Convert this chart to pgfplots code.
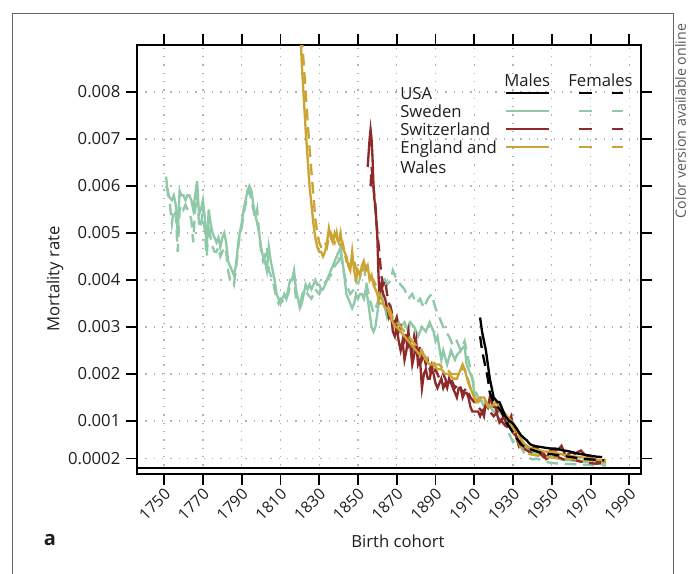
\documentclass[border=0pt]{standalone}
\usepackage{fontspec}
\setmainfont{Open Sans}
\usepackage{pgfplots}
\pgfplotsset{compat=1.18}
\definecolor{swe}{RGB}{143,201,168}
\definecolor{che}{RGB}{142,42,42}
\definecolor{eng}{RGB}{204,164,52}
\definecolor{txt}{RGB}{30,30,30}

% Sweden, males / females
\pgfplotstableread{
year rate
1751 0.0062
1752 0.0058
1753 0.00575
1754 0.0057
1755 0.0058
1756 0.0056
1757 0.0050
1758 0.0059
1759 0.0058
1760 0.0058
1761 0.0057
1762 0.0058
1763 0.0058
1764 0.0057
1765 0.0055
1766 0.0058
1767 0.0061
1768 0.0054
1769 0.0055
1770 0.0057
1771 0.0053
1772 0.0047
1773 0.0055
1774 0.0052
1775 0.0050
1776 0.0049
1777 0.0048
1778 0.0049
1779 0.0047
1780 0.0049
1781 0.0050
1782 0.0048
1783 0.0044
1784 0.0043
1785 0.0042
1786 0.0041
1787 0.0043
1788 0.0047
1789 0.0050
1790 0.0052
1791 0.0055
1792 0.0057
1793 0.0059
1794 0.0060
1795 0.0059
1796 0.0056
1797 0.0054
1798 0.0052
1799 0.0050
1800 0.0047
1801 0.0045
1802 0.0044
1803 0.0042
1804 0.0047
1805 0.0044
1806 0.0042
1807 0.0040
1808 0.0037
1809 0.0036
1810 0.0035
1811 0.0036
1812 0.0037
1813 0.0036
1814 0.0038
1815 0.0040
1816 0.0040
1817 0.0042
1818 0.0038
1819 0.0036
1820 0.0034
1821 0.0035
1822 0.0037
1823 0.0039
1824 0.0038
1825 0.0039
1826 0.0038
1827 0.0039
1828 0.0040
1829 0.0039
1830 0.0039
1831 0.0038
1832 0.0038
1833 0.0039
1834 0.0040
1835 0.0041
1836 0.0042
1837 0.0043
1838 0.0044
1839 0.0045
1840 0.0046
1841 0.0047
1842 0.0044
1843 0.0041
1844 0.0037
1845 0.0036
1846 0.0035
1847 0.0034
1848 0.0035
1849 0.0037
1850 0.0036
1851 0.0037
1852 0.0037
1853 0.0036
1854 0.0038
1855 0.0036
1856 0.0033
1857 0.0030
1858 0.0029
1859 0.0030
1860 0.0033
1861 0.0036
1862 0.0037
1863 0.0035
1864 0.0034
1865 0.0032
1866 0.0033
1867 0.0034
1868 0.0031
1869 0.0030
1870 0.0032
1872 0.0030
1874 0.0031
1876 0.0029
1877 0.0031
1879 0.0030
1881 0.0028
1883 0.0030
1885 0.0029
1887 0.0031
1889 0.0029
1890 0.0027
1891 0.0028
1893 0.0023
1894 0.0025
1896 0.0022
1898 0.0025
1900 0.0023
1901 0.0024
1903 0.0025
1905 0.0026
1906 0.0022
1907 0.0021
1909 0.0019
1910 0.0016
1912 0.0015
1913 0.0015
1915 0.0013
1918 0.0014
1920 0.0013
1923 0.0012
1925 0.0011
1927 0.0010
1929 0.00087
1931 0.00072
1933 0.00058
1935 0.00050
1937 0.00044
1939 0.00037
1941 0.00033
1944 0.00030
1947 0.00026
1950 0.00023
1953 0.00020
1956 0.00017
1960 0.00016
1964 0.00016
1968 0.00012
1972 0.00010
1976 0.00010
1978 0.00009
}\swem
\pgfplotstableread{
year rate
1751 0.0060
1752 0.0059
1753 0.0056
1754 0.0052
1755 0.0055
1756 0.0054
1757 0.0046
1758 0.0055
1759 0.0056
1760 0.0055
1761 0.0056
1762 0.0055
1763 0.0054
1764 0.0053
1765 0.0048
1766 0.0055
1767 0.0058
1768 0.0052
1769 0.0051
1770 0.0056
1771 0.0050
1772 0.0045
1773 0.0052
1774 0.0049
1775 0.0047
1776 0.0046
1777 0.0046
1778 0.0047
1779 0.0045
1780 0.0046
1781 0.0047
1782 0.0046
1783 0.0042
1784 0.0040
1785 0.0040
1786 0.0039
1787 0.0042
1788 0.0046
1789 0.0050
1790 0.0051
1791 0.0054
1792 0.0056
1793 0.0058
1794 0.0059
1795 0.0057
1796 0.0055
1797 0.0053
1798 0.0055
1799 0.0050
1800 0.0046
1801 0.0044
1802 0.0045
1803 0.0047
1804 0.0042
1805 0.0041
1806 0.0040
1807 0.0038
1808 0.0036
1809 0.0035
1810 0.0036
1812 0.0035
1814 0.0037
1815 0.0039
1817 0.0041
1818 0.0036
1820 0.0035
1822 0.0038
1824 0.0037
1826 0.0036
1828 0.0038
1830 0.0037
1832 0.0039
1834 0.0040
1836 0.0041
1838 0.0043
1840 0.0044
1841 0.0046
1842 0.0043
1844 0.0039
1846 0.0037
1848 0.0038
1850 0.0039
1852 0.0042
1853 0.0043
1854 0.0040
1856 0.0036
1858 0.0033
1860 0.0035
1862 0.0039
1863 0.0041
1865 0.0039
1867 0.0040
1868 0.0042
1870 0.0040
1872 0.0039
1874 0.0038
1876 0.0036
1878 0.0037
1880 0.0035
1882 0.0036
1884 0.0034
1886 0.0036
1888 0.0037
1890 0.0034
1891 0.0033
1893 0.0031
1895 0.0029
1897 0.0028
1899 0.0026
1901 0.0027
1903 0.0025
1905 0.0027
1906 0.0025
1908 0.0021
1910 0.0017
1912 0.0015
1914 0.0014
1916 0.0013
1918 0.0013
1920 0.0012
1922 0.0011
1924 0.0010
1926 0.0009
1928 0.00072
1930 0.00055
1932 0.00060
1934 0.00045
1936 0.00030
1938 0.00022
1940 0.00018
1942 0.00020
1945 0.00016
1948 0.00012
1951 0.00010
1955 0.00009
1960 0.00008
1965 0.00007
1970 0.00006
1975 0.00006
1978 0.00005
}\swef

% Switzerland, males / females
\pgfplotstableread{
year rate
1855 0.0064
1856 0.0070
1856.5 0.0072
1857 0.0070
1857.5 0.0066
1858 0.0060
1858.5 0.0057
1859 0.0056
1860 0.0049
1860.5 0.0042
1861 0.0037
1862 0.0039
1863 0.0037
1864 0.0036
1865 0.0034
1866 0.0032
1867 0.0033
1868 0.0029
1869 0.0028
1870 0.0030
1871 0.0027
1872 0.0025
1873 0.0027
1874 0.0023
1875 0.0025
1876 0.0029
1877 0.0026
1878 0.0022
1879 0.0024
1880 0.0027
1881 0.0022
1882 0.0023
1883 0.0017
1884 0.0020
1885 0.0021
1886 0.0019
1887 0.0019
1888 0.0021
1889 0.0020
1890 0.0018
1891 0.0017
1892 0.0018
1893 0.0019
1894 0.0017
1895 0.0018
1896 0.0017
1897 0.0019
1898 0.0018
1899 0.0017
1900 0.0016
1901 0.0015
1902 0.0017
1903 0.0017
1904 0.0015
1905 0.0016
1906 0.0016
1907 0.0015
1908 0.0013
1909 0.0012
1910 0.0012
1911 0.0012
1912 0.0012
1913 0.0011
1914 0.0012
1915 0.0011
1916 0.0014
1917 0.0013
1918 0.0015
1919 0.0014
1920 0.0013
1921 0.0013
1922 0.0011
1923 0.00096
1924 0.0010
1925 0.0011
1926 0.0010
1927 0.0009
1928 0.0010
1929 0.0011
1930 0.0009
1931 0.00080
1932 0.00060
1933 0.00047
1934 0.00058
1935 0.00052
1937 0.00047
1939 0.00040
1940 0.00042
1942 0.00044
1944 0.00033
1946 0.00030
1947 0.00020
1949 0.00035
1950 0.00040
1952 0.00037
1954 0.00042
1955 0.00047
1957 0.00026
1959 0.00030
1960 0.00033
1962 0.00030
1964 0.00035
1965 0.00037
1967 0.00028
1968 0.00026
1970 0.00022
1972 0.00018
1974 0.00012
1975 0.00014
1977 0.00015
}\chem
\pgfplotstableread{
year rate
1856.5 0.0060
1857 0.0064
1858 0.0060
1859 0.0055
1860 0.0050
1861 0.0046
1862 0.0041
1863 0.0039
1864 0.0040
1865 0.0037
1866 0.0035
1867 0.0034
1868 0.0032
1869 0.0031
1870 0.0032
1871 0.0029
1872 0.0030
1873 0.0028
1874 0.0027
1875 0.0029
1876 0.0026
1877 0.0027
1878 0.0025
1879 0.0028
1880 0.0026
1881 0.0024
1882 0.0026
1883 0.0023
1884 0.0024
1885 0.0022
1886 0.0023
1887 0.0021
1888 0.0022
1889 0.0020
1890 0.0021
1892 0.0019
1894 0.0020
1896 0.0018
1898 0.0019
1900 0.0017
1902 0.0018
1904 0.0016
1906 0.0017
1908 0.0015
1910 0.0014
1912 0.0013
1914 0.0012
1916 0.0013
1918 0.0012
1920 0.0011
1922 0.0012
1924 0.0010
1926 0.0009
1928 0.00085
1930 0.00075
1932 0.00065
1934 0.00050
1936 0.00040
1938 0.00035
1940 0.00030
1942 0.00028
1944 0.00030
1946 0.00022
1948 0.00020
1950 0.00018
1952 0.00025
1955 0.00020
1958 0.00015
1961 0.00018
1964 0.00014
1967 0.00012
1970 0.00010
1973 0.00009
1976 0.00010
}\chef

% England and Wales, males / females
\pgfplotstableread{
year rate
1820 0.0096
1821 0.0086
1822 0.0079
1823 0.0072
1824 0.0066
1825 0.0060
1826 0.0056
1827 0.0052
1828 0.0049
1829 0.0047
1830 0.0046
1831 0.0046
1832 0.0045
1833 0.0046
1834 0.0048
1835 0.0051
1836 0.0049
1837 0.0048
1838 0.0050
1839 0.0049
1840 0.0048
1841 0.0050
1842 0.0047
1843 0.0046
1844 0.0045
1845 0.0043
1846 0.0042
1847 0.0046
1848 0.0042
1849 0.0040
1850 0.0042
1851 0.0041
1852 0.0043
1853 0.0044
1854 0.0042
1855 0.0043
1856 0.0040
1857 0.0041
1858 0.0039
1859 0.0038
1860 0.0037
1861 0.0035
1862 0.0035
1863 0.0035
1864 0.0034
1865 0.0034
1866 0.0033
1867 0.0032
1868 0.0031
1869 0.0030
1870 0.0030
1872 0.0029
1874 0.0028
1876 0.0027
1878 0.0026
1880 0.0025
1882 0.0024
1883 0.0025
1885 0.0023
1887 0.0022
1889 0.0022
1891 0.0021
1893 0.0021
1895 0.0020
1897 0.0020
1899 0.0019
1901 0.0019
1903 0.0021
1905 0.0021
1907 0.0018
1909 0.0016
1911 0.0014
1913 0.0015
1915 0.0015
1917 0.0013
1919 0.0013
1921 0.0014
1923 0.0013
1925 0.0012
1927 0.0011
1929 0.0010
1931 0.0009
1932 0.0008
1934 0.00062
1936 0.00050
1938 0.00044
1940 0.00041
1943 0.00038
1946 0.00035
1950 0.00034
1954 0.00030
1958 0.00026
1962 0.00024
1966 0.00022
1970 0.00020
1974 0.00017
1978 0.00016
}\engm
\pgfplotstableread{
year rate
1821 0.0092
1822 0.0086
1823 0.0080
1824 0.0074
1825 0.0068
1826 0.0063
1827 0.0058
1828 0.0053
1829 0.0050
1830 0.0048
1831 0.0047
1832 0.0047
1833 0.0048
1834 0.0047
1835 0.0049
1836 0.0050
1837 0.0049
1838 0.0048
1839 0.0050
1840 0.0047
1842 0.0048
1844 0.0044
1846 0.0043
1848 0.0044
1850 0.0041
1852 0.0042
1854 0.0043
1856 0.0041
1858 0.0040
1860 0.0038
1862 0.0036
1864 0.0035
1866 0.0034
1868 0.0032
1870 0.0031
1872 0.0030
1874 0.0029
1876 0.0028
1878 0.0027
1880 0.0026
1882 0.0025
1884 0.0024
1886 0.0023
1888 0.0023
1890 0.0022
1892 0.0022
1894 0.0021
1896 0.0021
1898 0.0020
1900 0.0020
1902 0.0020
1904 0.0022
1906 0.0020
1908 0.0017
1910 0.0015
1912 0.0014
1914 0.0015
1916 0.0014
1918 0.0013
1920 0.0013
1922 0.0013
1924 0.0012
1926 0.0011
1928 0.0010
1930 0.00085
1932 0.00060
1934 0.00045
1936 0.00036
1938 0.00030
1940 0.00028
1943 0.00026
1946 0.00024
1950 0.00022
1955 0.00020
1960 0.00019
1965 0.00017
1970 0.00016
1975 0.00014
1978 0.00013
}\engf

% USA, males / females
\pgfplotstableread{
year rate
1913 0.0032
1914 0.0029
1915 0.0027
1916 0.0025
1917 0.0022
1918 0.0019
1919 0.0017
1920 0.0015
1921 0.00145
1922 0.0014
1923 0.0014
1924 0.0013
1925 0.0012
1926 0.0011
1927 0.00105
1928 0.0010
1929 0.00098
1930 0.00094
1931 0.00088
1932 0.00083
1933 0.00076
1934 0.00070
1935 0.00066
1936 0.00062
1937 0.00059
1938 0.00054
1939 0.00050
1940 0.00048
1942 0.00046
1945 0.00044
1948 0.00042
1950 0.00041
1952 0.00041
1955 0.00038
1958 0.00036
1961 0.00033
1964 0.00030
1967 0.00028
1970 0.00026
1973 0.00024
1976 0.00023
}\usam
\pgfplotstableread{
year rate
1913 0.0028
1914 0.0025
1915 0.0023
1916 0.0021
1917 0.0019
1918 0.0016
1919 0.0015
1920 0.0014
1922 0.0013
1924 0.0012
1926 0.0010
1928 0.00088
1930 0.00075
1932 0.00062
1934 0.00050
1936 0.00045
1938 0.00041
1940 0.00038
1943 0.00034
1946 0.00031
1950 0.00029
1955 0.00026
1960 0.00023
1965 0.00020
1970 0.00018
1974 0.00017
1977 0.00016
}\usaf

\begin{document}
\begin{tikzpicture}[font=\fontsize{10}{12}\selectfont, text=txt]
\useasboundingbox (0,0) rectangle (412.8pt,-343.8pt);
\begin{axis}[
  at={(82.2pt,-284.4pt)}, anchor=south west,
  scale only axis, width=302.4pt, height=257.4pt,
  xmin=1736, xmax=1996, ymin=-0.00013, ymax=0.009,
  xtick={1750,1770,1790,1810,1830,1850,1870,1890,1910,1930,1950,1970,1990},
  xticklabels={1750,1770,1790,1810,1830,1850,1870,1890,1910,1930,1950,1970,1990},
  ytick={0.0002,0.001,0.002,0.003,0.004,0.005,0.006,0.007,0.008},
  yticklabels={0.0002,0.001,0.002,0.003,0.004,0.005,0.006,0.007,0.008},
  scaled y ticks=false,
  tick align=outside, major tick length=6.5pt,
  every tick/.style={black, line width=1.1pt},
  axis line style={line width=1.1pt},
  grid=major,
  grid style={gray!60, line width=0.8pt, dash pattern=on 0.8pt off 4.2pt},
  xticklabel style={xshift=4.5pt, yshift=-1.5pt, rotate=45, anchor=east, font=\fontsize{9.5}{11}\selectfont},
  yticklabel style={font=\fontsize{10}{12}\selectfont},
  every axis plot/.append style={line width=1.4pt},
  clip=true,
]
\addplot[swe, dash pattern=on 7pt off 4pt] table[x=year,y=rate] {\swef};
\addplot[swe] table[x=year,y=rate] {\swem};
\addplot[che, dash pattern=on 7pt off 4pt] table[x=year,y=rate] {\chef};
\addplot[che] table[x=year,y=rate] {\chem};
\addplot[eng, dash pattern=on 7pt off 4pt] table[x=year,y=rate] {\engf};
\addplot[eng] table[x=year,y=rate] {\engm};
\addplot[black, dash pattern=on 7pt off 4pt] table[x=year,y=rate] {\usaf};
\addplot[black] table[x=year,y=rate] {\usam};
\addplot[black, line width=1.3pt] coordinates {(1736,0) (1996,0)};
\end{axis}
\begin{scope}[x=0.6pt, y=-0.6pt]
  % outer frame
  \draw[gray!80!black, line width=0.6pt] (12,600) -- (12,13) -- (673,13) -- (673,600);
  \node[rotate=90, font=\fontsize{8.5}{10}\selectfont, text=gray!70!black] at (680.5,121) {Color version available online};
  \node[rotate=90] at (55,279) {Mortality rate};
  \node at (398,541) {Birth cohort};
  \node[font=\fontsize{12}{14}\selectfont\bfseries] at (50,540) {a};
  % legend
  \node[anchor=base west, inner sep=0pt] at (504,86) {Males};
  \node[anchor=base west, inner sep=0pt] at (568,86) {Females};
  \node[anchor=base west, inner sep=0pt] at (400,99) {USA};
  \node[anchor=base west, inner sep=0pt] at (400,117) {Sweden};
  \node[anchor=base west, inner sep=0pt] at (400,135) {Switzerland};
  \node[anchor=base west, inner sep=0pt] at (400,153) {England and};
  \node[anchor=base west, inner sep=0pt] at (400,173) {Wales};
  \foreach \yy/\cc in {93/black, 111/swe, 129/che, 147/eng} {
    \draw[\cc, line width=1.4pt] (506,\yy) -- (549,\yy);
    \draw[\cc, line width=1.4pt] (579,\yy) -- (592,\yy);
    \draw[\cc, line width=1.4pt] (612,\yy) -- (623,\yy);
  }
\end{scope}
\end{tikzpicture}
\end{document}
